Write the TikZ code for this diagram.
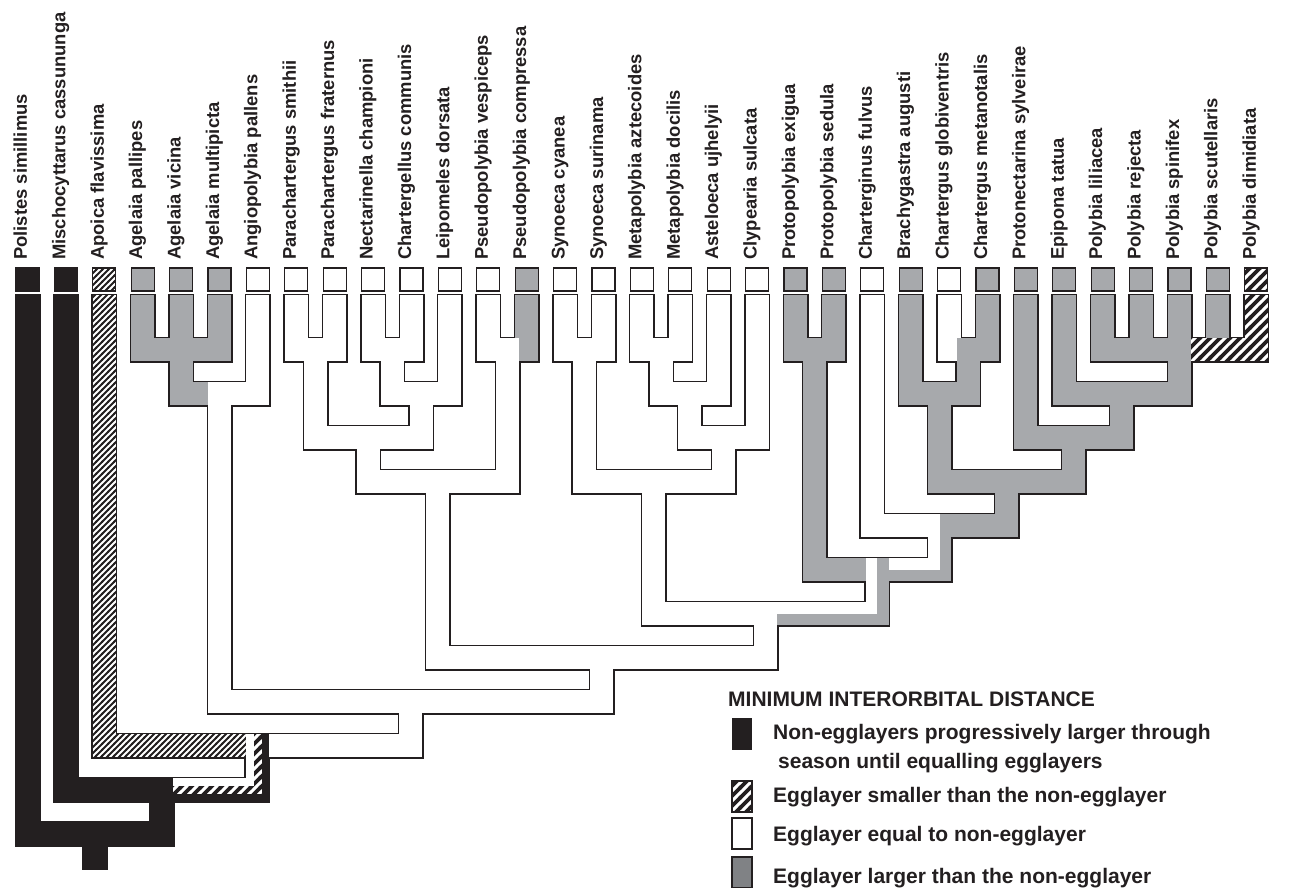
\documentclass[tikz,border=0pt]{standalone}
\usepackage{fontspec}
\setmainfont{Liberation Sans}
\usetikzlibrary{patterns}

\definecolor{ink}{HTML}{231F20}
\definecolor{midgray}{HTML}{A7A9AC}
\definecolor{keygray}{HTML}{808285}

% diagonal hatchings
\pgfdeclarepatternformonly{hatchfine}{\pgfqpoint{-1pt}{-1pt}}{\pgfqpoint{7pt}{7pt}}{\pgfqpoint{6pt}{6pt}}%
{\pgfsetlinewidth{1.8pt}\pgfpathmoveto{\pgfqpoint{-1pt}{-1pt}}\pgfpathlineto{\pgfqpoint{7pt}{7pt}}\pgfusepath{stroke}}
\pgfdeclarepatternformonly{hatchbold}{\pgfqpoint{-2pt}{-2pt}}{\pgfqpoint{12pt}{12pt}}{\pgfqpoint{10pt}{10pt}}%
{\pgfsetlinewidth{3.6pt}\pgfpathmoveto{\pgfqpoint{-2pt}{-2pt}}\pgfpathlineto{\pgfqpoint{12pt}{12pt}}\pgfusepath{stroke}}

\newif\ifoutlinepass
\newcommand\ow{1.5}

% one branch as a thick tube: column at #1 from #2 down to node level #4,
% then across to the parent at #3; #5 is the fill style
\newcommand\brn[5]{%
  \pgfmathsetmacro\bxa{#1-11.5}%
  \pgfmathsetmacro\bxb{#1+11.5}%
  \pgfmathsetmacro\bya{#4-11.5}%
  \pgfmathsetmacro\byb{#4+11.5}%
  \pgfmathsetmacro\bha{min(#1,#3)-11.5}%
  \pgfmathsetmacro\bhb{max(#1,#3)+11.5}%
  \ifoutlinepass
    \fill[ink] (\bxa-\ow,#2-\ow) rectangle (\bxb+\ow,\byb+\ow);
    \fill[ink] (\bha-\ow,\bya-\ow) rectangle (\bhb+\ow,\byb+\ow);
  \else
    \path[#5] (\bxa,#2) rectangle (\bxb,\byb);
    \path[#5] (\bha,\bya) rectangle (\bhb,\byb);
  \fi}

% inner strip of width #5 of a left-turning branch
\newcommand\brnpiece[6]{%
  \pgfmathsetmacro\bxa{#1-11.5}%
  \pgfmathsetmacro\bya{#4-11.5}%
  \pgfmathsetmacro\bha{#3-11.5}%
  \path[#6] (\bxa,#2) rectangle (\bxa+#5,\bya+#5);
  \path[#6] (\bha,\bya) rectangle (\bxa+#5,\bya+#5);}

% equivocal branches: white / grey, and white / hatched / black
\newcommand\brnwg[4]{%
  \ifoutlinepass \brn{#1}{#2}{#3}{#4}{wfill}%
  \else \brnpiece{#1}{#2}{#3}{#4}{23}{gfill}\brnpiece{#1}{#2}{#3}{#4}{11.5}{wfill}\fi}
\newcommand\brnwhb[4]{%
  \ifoutlinepass \brn{#1}{#2}{#3}{#4}{wfill}%
  \else \brnpiece{#1}{#2}{#3}{#4}{23}{bfill}\brnpiece{#1}{#2}{#3}{#4}{16}{hbold}\brnpiece{#1}{#2}{#3}{#4}{8}{wfill}\fi}

% the whole tree, children before parents
\newcommand\treebody{%
  \brn{27.5}{295}{94.6}{833.5}{bfill}%
  \brn{65.9}{295}{161.7}{789.5}{bfill}%
  \brn{104.3}{295}{257.45}{745.5}{hfine}%
  \brn{142.7}{295}{181.1}{349.5}{gfill}%
  \brn{181.1}{295}{181.1}{349.5}{gfill}%
  \brn{219.5}{295}{181.1}{349.5}{gfill}%
  \brn{181.1}{338}{219.5}{393.5}{gfill}%
  \brn{257.9}{295}{219.5}{393.5}{wfill}%
  \brn{219.5}{382}{410.6}{701.5}{wfill}%
  \brn{296.3}{295}{315.5}{349.5}{wfill}%
  \brn{334.7}{295}{315.5}{349.5}{wfill}%
  \brn{315.5}{338}{368.3}{437.5}{wfill}%
  \brn{373.1}{295}{392.3}{349.5}{wfill}%
  \brn{411.5}{295}{392.3}{349.5}{wfill}%
  \brn{392.3}{338}{421.1}{393.5}{wfill}%
  \brn{449.9}{295}{421.1}{393.5}{wfill}%
  \brn{421.1}{382}{368.3}{437.5}{wfill}%
  \brn{368.3}{426}{437.9}{481.5}{wfill}%
  \brn{488.3}{295}{507.5}{349.5}{wfill}%
  \brn{526.7}{295}{507.5}{349.5}{gfill}%
  \brn{507.5}{338}{437.9}{481.5}{wfill}%
  \brn{437.9}{470}{601.7}{657.5}{wfill}%
  \brn{565.1}{295}{584.3}{349.5}{wfill}%
  \brn{603.5}{295}{584.3}{349.5}{wfill}%
  \brn{584.3}{338}{653.9}{481.5}{wfill}%
  \brn{641.9}{295}{661.1}{349.5}{wfill}%
  \brn{680.3}{295}{661.1}{349.5}{wfill}%
  \brn{661.1}{338}{689.9}{393.5}{wfill}%
  \brn{718.7}{295}{689.9}{393.5}{wfill}%
  \brn{689.9}{382}{723.5}{437.5}{wfill}%
  \brn{757.1}{295}{723.5}{437.5}{wfill}%
  \brn{723.5}{426}{653.9}{481.5}{wfill}%
  \brn{653.9}{470}{765.5}{613.5}{wfill}%
  \brn{795.5}{295}{814.7}{349.5}{gfill}%
  \brn{833.9}{295}{814.7}{349.5}{gfill}%
  \brn{814.7}{338}{877.1}{569.5}{gfill}%
  \brn{872.3}{295}{939.5}{525.5}{wfill}%
  \brn{910.7}{295}{939.5}{393.5}{gfill}%
  \brn{949.1}{295}{968.3}{349.5}{wfill}%
  \brn{987.5}{295}{968.3}{349.5}{gfill}%
  \brn{968.3}{338}{939.5}{393.5}{gfill}%
  \brn{939.5}{382}{1006.7}{481.5}{gfill}%
  \brn{1025.9}{295}{1073.9}{437.5}{gfill}%
  \brn{1064.3}{295}{1121.9}{393.5}{gfill}%
  \brn{1102.7}{295}{1179.5}{349.5}{gfill}%
  \brn{1141.1}{295}{1179.5}{349.5}{gfill}%
  \brn{1179.5}{295}{1179.5}{349.5}{gfill}%
  \brn{1217.9}{295}{1179.5}{349.5}{gfill}%
  \brn{1256.3}{295}{1179.5}{349.5}{hbold}%
  \brn{1179.5}{338}{1121.9}{393.5}{gfill}%
  \brn{1121.9}{382}{1073.9}{437.5}{gfill}%
  \brn{1073.9}{426}{1006.7}{481.5}{gfill}%
  \brn{1006.7}{470}{939.5}{525.5}{gfill}%
  \brnwg{939.5}{514}{877.1}{569.5}%
  \brnwg{877.1}{558}{765.5}{613.5}%
  \brn{765.5}{602}{601.7}{657.5}{wfill}%
  \brn{601.7}{646}{410.6}{701.5}{wfill}%
  \brn{410.6}{690}{257.45}{745.5}{wfill}%
  \brnwhb{257.45}{734}{161.7}{789.5}%
  \brn{161.7}{778}{94.6}{833.5}{bfill}%
  \brn{94.6}{822}{94.6}{856.5}{bfill}%
}

\begin{document}
\begin{tikzpicture}[x=1pt,y=-1pt,
  wfill/.style={fill=white},
  gfill/.style={fill=midgray},
  bfill/.style={fill=ink},
  hfine/.style={fill=white,postaction={pattern=hatchfine,pattern color=ink}},
  hbold/.style={fill=white,postaction={pattern=hatchbold,pattern color=ink}},
  tipframe/.style={draw=ink,line width=1.3pt},
  taxon/.style={rotate=90,anchor=base west,inner sep=0pt,text=ink,
    font=\fontsize{18.4}{20}\selectfont\bfseries},
  keytext/.style={anchor=base west,inner sep=0pt,text=ink,
    font=\fontsize{21}{24}\selectfont\bfseries}]
\useasboundingbox[fill=white] (0,0) rectangle (1299,888);

% tube outlines first, then the coloured fills on top
\outlinepasstrue
\treebody
\outlinepassfalse
\treebody

% character states of the terminal taxa
\foreach \i/\st in {0/bfill,1/bfill,2/hfine,3/gfill,4/gfill,5/gfill,6/wfill,7/wfill,
  8/wfill,9/wfill,10/wfill,11/wfill,12/wfill,13/gfill,14/wfill,15/wfill,16/wfill,
  17/wfill,18/wfill,19/wfill,20/gfill,21/gfill,22/wfill,23/gfill,24/wfill,25/gfill,
  26/gfill,27/gfill,28/gfill,29/gfill,30/gfill,31/gfill,32/hbold}{
  \path[\st] ({16+38.4*\i},268) rectangle ({39+38.4*\i},291);
  \path[tipframe] ({16+38.4*\i},268) rectangle ({39+38.4*\i},291);
}

% taxon names
\foreach \i/\nm in {0/Polistes simillimus,1/Mischocyttarus cassununga,2/Apoica flavissima,
  3/Agelaia pallipes,4/Agelaia vicina,5/Agelaia multipicta,6/Angiopolybia pallens,
  7/Parachartergus smithii,8/Parachartergus fraternus,9/Nectarinella championi,
  10/Chartergellus communis,11/Leipomeles dorsata,12/Pseudopolybia vespiceps,
  13/Pseudopolybia compressa,14/Synoeca cyanea,15/Synoeca surinama,
  16/Metapolybia aztecoides,17/Metapolybia docilis,18/Asteloeca ujhelyii,
  19/Clypearia sulcata,20/Protopolybia exigua,21/Protopolybia sedula,
  22/Charterginus fulvus,23/Brachygastra augusti,24/Chartergus globiventris,
  25/Chartergus metanotalis,26/Protonectarina sylveirae,27/Epipona tatua,
  28/Polybia liliacea,29/Polybia rejecta,30/Polybia spinifex,31/Polybia scutellaris,
  32/Polybia dimidiata}{
  \node[taxon] (t\i) at ({27+38.4*\i},260) {\nm};
}

% key
\node[keytext] (keytitle) at (728,706) {MINIMUM INTERORBITAL DISTANCE};
\path[bfill] (732,718) rectangle (752,750);
\node[keytext] (keyA) at (773,739) {Non-egglayers progressively larger through};
\node[keytext] (keyA2) at (778,768) {season until equalling egglayers};
\path[hbold] (732,781) rectangle (752,812);
\path[tipframe] (732,781) rectangle (752,812);
\node[keytext] (keyB) at (773,802) {Egglayer smaller than the non-egglayer};
\path[wfill,tipframe] (732,818) rectangle (752,849);
\node[keytext] (keyC) at (773,841) {Egglayer equal to non-egglayer};
\path[fill=keygray,tipframe] (732,857) rectangle (752,888);
\node[keytext] (keyD) at (773,883) {Egglayer larger than the non-egglayer};
\end{tikzpicture}
\end{document}
